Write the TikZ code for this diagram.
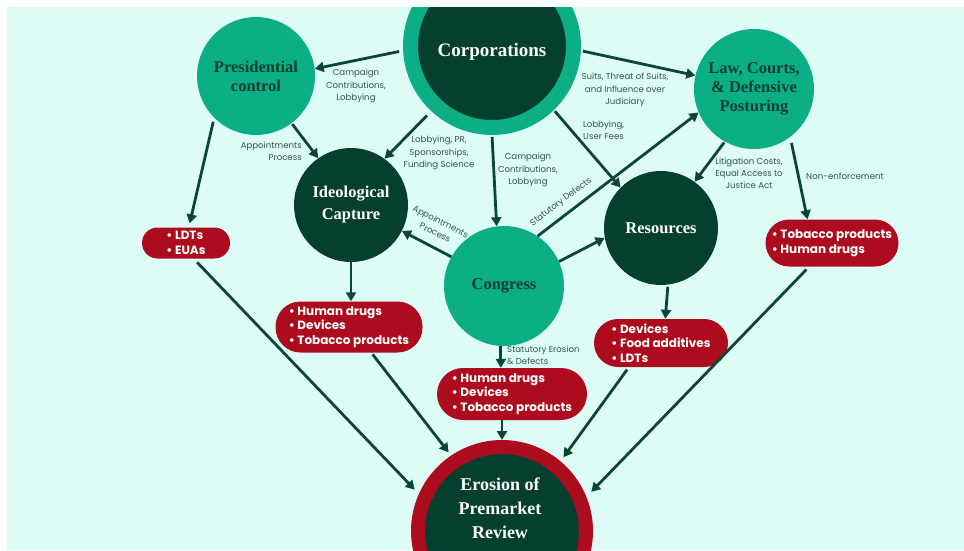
\documentclass[tikz,border=0pt]{standalone}
\usepackage{fontspec}
\setmainfont{Liberation Serif}
\newfontfamily\pop{Poppins}
\usetikzlibrary{arrows.meta}
\definecolor{bgc}{HTML}{DDFCF6}
\definecolor{midg}{HTML}{0BAE85}
\definecolor{darkg}{HTML}{05402F}
\definecolor{redc}{HTML}{AD0B1E}
\definecolor{arr}{HTML}{0B4535}
\definecolor{lab}{HTML}{33524A}
\tikzset{
  circ/.style={circle, inner sep=0pt, font=\bfseries\fontsize{16.5}{19}\selectfont, align=center},
  litecirc/.style={circ, fill=midg, text=darkg},
  darkcirc/.style={circ, fill=darkg, text=white},
  redbox/.style={rectangle, rounded corners=#1, fill=redc, text=white, inner sep=0pt,
    font=\pop\bfseries\fontsize{12}{14.6}\selectfont, align=left},
  arrow/.style={draw=arr, line width=2.8pt, -{Triangle[length=9pt,width=10pt]}},
  lbl/.style={font=\pop\fontsize{8.6}{12.2}\selectfont, text=lab, align=center, inner sep=0pt}
}
\begin{document}
\begin{tikzpicture}[x=1pt,y=-1pt]
\useasboundingbox (0,0) rectangle (964,550);
\fill[white] (0,0) rectangle (964,550);
\begin{scope}
\clip (7,7) rectangle (964,550);
\fill[bgc] (7,7) rectangle (964,550);

% circles
\node[circle, inner sep=0pt, fill=darkg, draw=midg, line width=15pt, minimum size=163pt] (corp) at (492,46) {};
\node[font=\bfseries\fontsize{19}{22}\selectfont, text=white] (corpt) at (492,52) {Corporations};
\node[litecirc, minimum size=118pt] (pres) at (256,76) {Presidential\\control};
\node[litecirc, minimum size=120pt] (law) at (754,89) {Law, Courts,\\\& Defensive\\Posturing};
\node[darkcirc, minimum size=114pt, font=\bfseries\fontsize{16.5}{22}\selectfont] (ideo) at (351,205) {Ideological\\Capture};
\node[darkcirc, minimum size=114pt] (res) at (661,228) {Resources};
\node[litecirc, minimum size=120pt] (cong) at (504,286) {Congress};
\node[circle, inner sep=0pt, fill=darkg, draw=redc, line width=14pt, minimum size=168pt] (ero) at (502,531) {};
\node[font=\bfseries\fontsize{18}{24}\selectfont, text=white, align=center] (erot) at (500,508) {Erosion of\\Premarket\\Review};

% red boxes
\node[redbox=15.5pt, minimum width=88pt, minimum height=31pt] (box1) at (186,243) {• LDTs\\• EUAs};
\node[redbox=25pt, minimum width=147pt, minimum height=51pt] (box2) at (349,327) {• Human drugs\\• Devices\\• Tobacco products};
\node[redbox=26pt, minimum width=150pt, minimum height=52pt] (box3) at (512,394) {• Human drugs\\• Devices\\• Tobacco products};
\node[redbox=24pt, minimum width=134pt, minimum height=48pt] (box4) at (661,343) {• Devices\\• Food additives\\• LDTs};
\node[redbox=23.5pt, minimum width=133pt, minimum height=47pt] (box5) at (832,243) {• Tobacco products\\• Human drugs};

% arrows
\draw[arrow, shorten <=4pt] (corp.183.7) -- (pres.7.6);
\draw[arrow, shorten <=2pt] (corp.-3.8) -- (law.167.6);
\draw[arrow, shorten <=6pt] (corp.227.6) -- (ideo.54.1);
\draw[arrow, shorten <=1pt] (pres.-53.1) -- (ideo.125.3);
\draw[arrow, shorten <=4pt, shorten >=4pt] (pres.225) -- (box1.80);
\draw[arrow, shorten <=2pt] (corp.-90) -- (cong.97.7);
\draw[arrow, shorten <=1.5pt] (corp.-46.8) -- (res.135);
\draw[arrow, shorten <=1pt] (law.241.8) -- (res.54.7);
\draw[arrow, shorten <=6pt] (law.-53) -- (box5.136);
\draw[arrow] (cong.151.3) -- (ideo.-27.8);
\draw[arrow] (cong.56.6) -- (law.203.1);
\draw[arrow] (cong.24.4) -- (res.190.9);
\draw[arrow] (ideo.-90) -- (ideo.-90 |- box2.north);
\draw[arrow, shorten <=2pt] (res.-83) -- (box4.80);
\draw[arrow] (cong.-93) -- (cong.-93 |- box3.north);
\draw[arrow, shorten <=5pt, shorten >=6pt] (box1.-64) -- (ero.156.9);
\draw[arrow, shorten <=2pt, shorten >=4pt] (box2.-49.2) -- (ero.124.7);
\draw[arrow] (box3.south -| ero.north) -- (ero.north);
\draw[arrow, shorten <=3pt, shorten >=5pt] (box4.217) -- (ero.50.5);
\draw[arrow, shorten <=4pt, shorten >=7pt] (box5.226) -- (ero.22.7);

% labels
\node[lbl] (l1) at (356,86) {Campaign\\Contributions,\\Lobbying};
\node[lbl, anchor=east, align=right] (l2) at (302,151) {Appointments\\Process};
\node[lbl] (l3) at (439,153) {Lobbying, PR,\\Sponsorships,\\Funding Science};
\node[lbl] (l4) at (625,90) {Suits, Threat of Suits,\\and Influence over\\Judiciary};
\node[lbl, anchor=west, align=left] (l5) at (583,130) {Lobbying,\\User Fees};
\node[lbl] (l6) at (528,170) {Campaign\\Contributions,\\Lobbying};
\node[lbl] (l7) at (749,173) {Litigation Costs,\\Equal Access to\\Justice Act};
\node[lbl] (l8) at (845,176) {Non-enforcement};
\node[lbl, rotate=37] (l9) at (561,202) {Statutory Defects};
\node[lbl, rotate=-27] (l10) at (438,227) {Appointments\\Process};
\node[lbl, anchor=west, align=left] (l11) at (507,355) {Statutory Erosion\\\& Defects};
\end{scope}
\end{tikzpicture}
\end{document}
